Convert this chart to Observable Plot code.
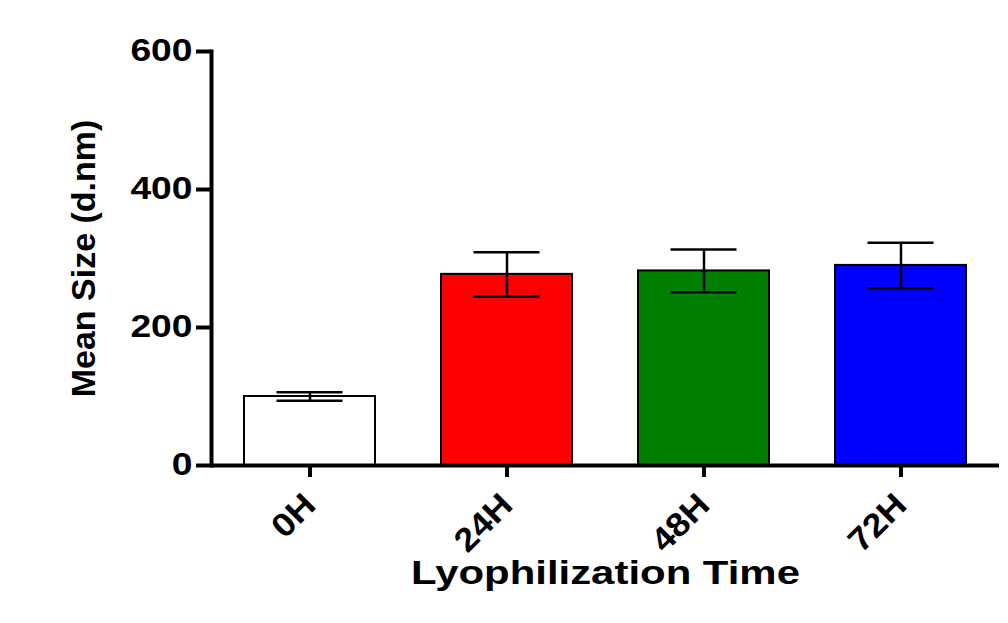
<!DOCTYPE html>
<html><head><meta charset="utf-8">
<script src="https://cdn.jsdelivr.net/npm/d3@7"></script>
<script src="https://cdn.jsdelivr.net/npm/@observablehq/plot@0.6"></script>
<style>body{margin:0;background:#fff} svg{display:block}</style>
</head><body><div id="chart"></div>
<script>
const times = ["0H", "24H", "48H", "72H"];
const means = [100, 277, 282, 290];
const sds = [6, 32, 31, 33];
const colors = ["#ffffff", "#ff0000", "#008000", "#0000ff"];
const yTicks = [0, 200, 400, 600];
const xTitle = "Lyophilization Time";
const yTitle = "Mean Size (d.nm)";

const data = times.map((t, i) => ({time: t, mean: means[i], lo: means[i] - sds[i], hi: means[i] + sds[i], color: colors[i]}));

const font = "'Liberation Sans', Arial, sans-serif";
const chart = Plot.plot({
  width: 1008, height: 623,
  marginLeft: 211, marginRight: 9, marginTop: 51, marginBottom: 158,
  style: {fontFamily: font, fontWeight: "bold", background: "#fff", color: "#000"},
  x: {domain: times, paddingInner: 0.335, paddingOuter: 0.1675, label: null},
  y: {domain: [0, 600], label: null},
  color: {type: "identity"},
  marks: [
    Plot.barY(data, {x: "time", y: "mean", fill: "color", stroke: "#000", strokeWidth: 2}),
    Plot.ruleX(data, {x: "time", y1: "lo", y2: "hi", stroke: "#000", strokeWidth: 2.5}),
    Plot.tickY(data, {x: "time", y: "hi", stroke: "#000", strokeWidth: 2.5, insetLeft: 32.5, insetRight: 32.5}),
    Plot.tickY(data, {x: "time", y: "lo", stroke: "#000", strokeWidth: 2.5, insetLeft: 32.5, insetRight: 32.5}),
    Plot.ruleY([0], {stroke: "#000", strokeWidth: 4}),
    Plot.frame({anchor: "left", stroke: "#000", strokeWidth: 4}),
    Plot.axisY({ticks: yTicks, tickSize: 15, tickPadding: 4, strokeWidth: 4, fontSize: 31, label: null}),
    Plot.axisX({tickSize: 12, tickPadding: 22, tickRotate: -45, strokeWidth: 4, fontSize: 33, label: null}),
    Plot.text([xTitle], {text: d => d, frameAnchor: "bottom", dy: 118, fontSize: 33, fontWeight: "bold"}),
    Plot.text([yTitle], {text: d => d, frameAnchor: "left", textAnchor: "middle", dx: -127, rotate: -90, fontSize: 34, fontWeight: "bold"})
  ]
});
document.getElementById("chart").append(chart);

function stretch(sel, k) {
  sel.each(function() {
    const w = this.getComputedTextLength();
    this.setAttribute("textLength", w * k);
    this.setAttribute("lengthAdjust", "spacingAndGlyphs");
  });
}
const svg = d3.select(chart);
stretch(svg.selectAll('g[aria-label="y-axis tick label"] text'), 1.2);
stretch(svg.selectAll('g[aria-label="x-axis tick label"] text'), 1.1);
const textGroups = svg.selectAll('g[aria-label="text"]').nodes();
if (textGroups[0]) stretch(d3.select(textGroups[0]).selectAll("text"), 1.27);
</script>
</body></html>
